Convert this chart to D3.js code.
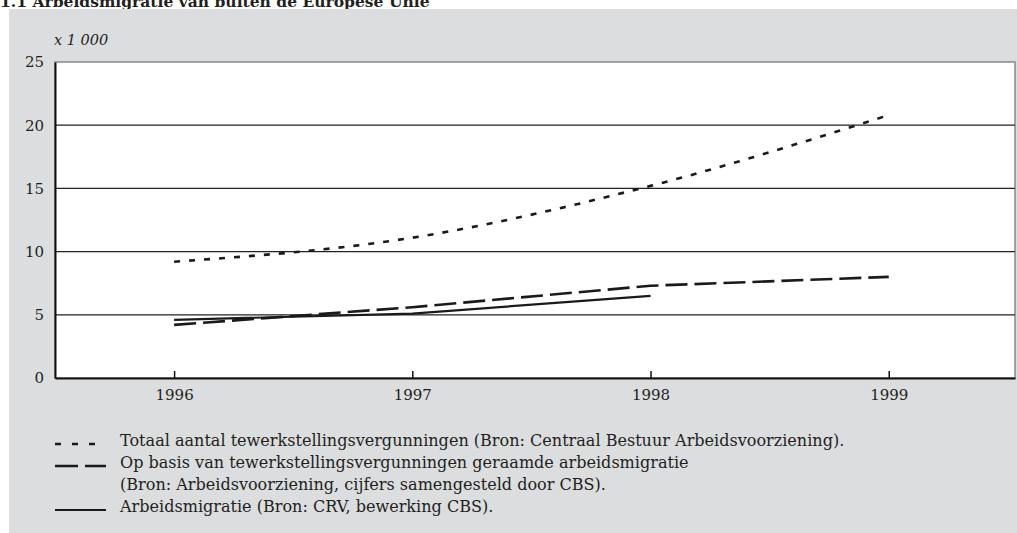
<!DOCTYPE html>
<html>
<head>
<meta charset="utf-8">
<script src="https://cdn.jsdelivr.net/npm/d3@7"></script>
<style>
  html, body { margin: 0; padding: 0; background: #fff; }
  svg { display: block; }
  text { font-family: "DejaVu Serif", "Liberation Serif", serif; fill: #231f20; }
</style>
</head>
<body>
<svg id="chart" width="1017" height="533"></svg>
<script>
// Data
const years = [1996, 1997, 1998, 1999];
const totaal = [9.2, 11.1, 15.2, 20.8];          // tewerkstellingsvergunningen
const opBasis = [4.2, 5.6, 7.3, 8.0];            // geraamde arbeidsmigratie
const arbeidsmigratie = [4.6, 5.1, 6.5];         // CRV, 1996-1998
const yTicks = [0, 5, 10, 15, 20, 25];
const legendLines = [
  "Totaal aantal tewerkstellingsvergunningen (Bron: Centraal Bestuur Arbeidsvoorziening).",
  "Op basis van tewerkstellingsvergunningen geraamde arbeidsmigratie",
  "(Bron: Arbeidsvoorziening, cijfers samengesteld door CBS).",
  "Arbeidsmigratie (Bron: CRV, bewerking CBS)."
];

const svg = d3.select('#chart');
const W = 1017, H = 533;
const plot = { left: 55, right: 1015, top: 62, bottom: 378 };

// shrink/grow a text so it spans a given width
function fitWidth(sel, target) {
  const node = sel.node();
  const size = parseFloat(sel.style('font-size'));
  const w = node.getComputedTextLength();
  const s = size * target / w;
  sel.style('font-size', s + 'px');
  return s;
}

// title sits behind the grey panel, only its lower part shows
const title = svg.append('text').attr('x', 0).attr('y', 7)
  .style('font-weight', 'bold').style('font-size', '16px')
  .text('1.1 Arbeidsmigratie van buiten de Europese Unie');
fitWidth(title, 430);

svg.append('rect').attr('x', 9).attr('y', 9).attr('width', W - 9).attr('height', H - 9)
  .attr('fill', '#dcdddf');

const x = d3.scaleLinear().domain([1995.5, 1999.53]).range([plot.left, plot.right]);
const y = d3.scaleLinear().domain([0, 25]).range([plot.bottom, plot.top]);

// plot background
svg.append('rect')
  .attr('x', plot.left).attr('y', plot.top)
  .attr('width', plot.right - plot.left).attr('height', plot.bottom - plot.top)
  .attr('fill', '#fff').attr('stroke', '#888').attr('stroke-width', 1.5);

// grid lines
svg.append('g').selectAll('line')
  .data(yTicks.filter(d => d > 0 && d < 25))
  .join('line')
  .attr('x1', plot.left).attr('x2', plot.right)
  .attr('y1', d => y(d)).attr('y2', d => y(d))
  .attr('stroke', '#222').attr('stroke-width', 1.2);

// y axis
const yAxis = svg.append('g').attr('transform', `translate(${plot.left},0)`)
  .call(d3.axisLeft(y).tickValues(yTicks).tickSize(0).tickPadding(11));
yAxis.select('.domain').attr('stroke', '#111').attr('stroke-width', 2);
yAxis.selectAll('text').style('font-size', '15px').style('font-family', '"DejaVu Serif", serif')
  .attr('fill', '#231f20');

// x axis (ticks pointing up)
const xAxis = svg.append('g').attr('transform', `translate(0,${plot.bottom})`)
  .call(d3.axisBottom(x).tickValues(years).tickFormat(d3.format('d'))
    .tickSizeInner(-7).tickSizeOuter(0).tickPadding(11));
xAxis.select('.domain').attr('stroke', '#111').attr('stroke-width', 2);
xAxis.selectAll('.tick line').attr('stroke', '#111').attr('stroke-width', 1.5);
xAxis.selectAll('text').style('font-size', '15px').style('font-family', '"DejaVu Serif", serif')
  .attr('fill', '#231f20');

// unit label
svg.append('text').attr('x', 54).attr('y', 45)
  .style('font-style', 'italic').style('font-size', '14.5px')
  .text('x 1 000');

// series
const series = [
  { values: totaal, dash: '6,9', width: 2.6, curve: d3.curveMonotoneX },
  { values: opBasis, dash: '22,7', width: 2.6, curve: d3.curveLinear },
  { values: arbeidsmigratie, dash: null, width: 2.2, curve: d3.curveLinear }
];

series.forEach(s => {
  const line = d3.line()
    .x((d, i) => x(years[i]))
    .y(d => y(d))
    .curve(s.curve);
  svg.append('path')
    .datum(s.values)
    .attr('d', line)
    .attr('fill', 'none')
    .attr('stroke', '#1a1a1a')
    .attr('stroke-width', s.width)
    .attr('stroke-dasharray', s.dash);
});

// legend
const legendY = [441, 463, 485, 507];
const legendX = 120;
const samples = [
  { row: 0, dash: '6,11', width: 2.6 },
  { row: 1, dash: '23,7', width: 2.6 },
  { row: 3, dash: null, width: 2.2 }
];
samples.forEach(s => {
  svg.append('line')
    .attr('x1', 55).attr('x2', 106)
    .attr('y1', legendY[s.row] + 3).attr('y2', legendY[s.row] + 3)
    .attr('stroke', '#1a1a1a')
    .attr('stroke-width', s.width)
    .attr('stroke-dasharray', s.dash);
});
const legendText = svg.append('g').selectAll('text')
  .data(legendLines)
  .join('text')
  .attr('x', legendX)
  .attr('y', (d, i) => legendY[i] + 5)
  .style('font-size', '15px')
  .text(d => d);
const legendSize = fitWidth(d3.select(legendText.nodes()[0]), 725);
legendText.style('font-size', legendSize + 'px');
</script>
</body>
</html>
